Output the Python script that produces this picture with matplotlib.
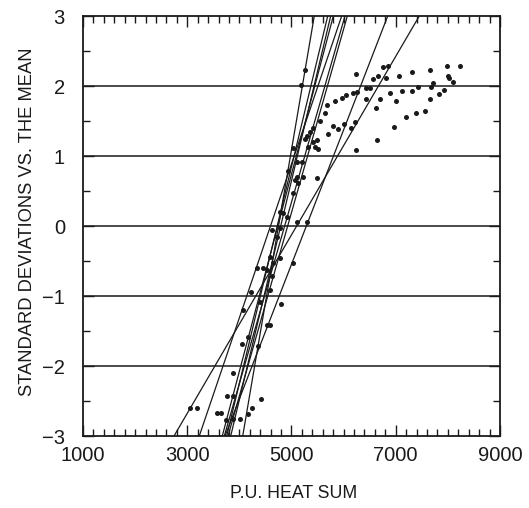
import numpy as np
import matplotlib
matplotlib.use("Agg")
import matplotlib.pyplot as plt
from matplotlib.ticker import MultipleLocator

plt.rcParams['font.family'] = ['Liberation Sans', 'DejaVu Sans']

# fitted lines: heat sum where each line meets -3 and +3 standard deviations
line_x_bottom = [2746, 3724, 3231, 4064, 3757, 3834, 3672, 3711, 3782]
line_x_top = [7452, 6846, 5963, 5437, 5695, 5752, 5802, 6026, 6071]
line_z = [-3, 3]

x_ticks = [1000, 3000, 5000, 7000, 9000]

# observed points (heat sum, standard deviations)
pts_x = [6750, 6857, 6813, 7062, 7318, 7657, 7978, 8233, 8008, 8028, 8093, 7720,
         7676, 7421, 7318, 7126, 6890, 7932, 7836, 7657, 6999, 6698, 7561, 7389,
         7197, 6972,
         5259, 5177, 6232, 6558, 6654, 6429, 6506, 6251, 6186, 6040, 5975, 5835,
         5687, 5643, 5547, 6429, 6621, 6237, 6218, 6142, 6007, 5898, 5802, 5706,
         5418, 5495, 5503, 5292, 5035, 5259, 6633,
         5355, 5451, 5418, 5322, 5195, 5100, 5067, 5483, 4939, 5100, 5228, 5130,
         5035, 4779, 4843, 4908, 5100, 5292, 4779, 4620, 4716, 4588, 4779, 4651,
         5035, 4332, 4459, 4524, 4620, 4588, 4217, 4396, 4799, 4075, 4524, 4588,
         4171, 4045, 4363, 3871, 3768, 3884, 4409, 3053, 3193, 3565, 3648, 4248,
         4171, 3738, 3884, 4012]
pts_y = [2.27, 2.29, 2.12, 2.15, 2.20, 2.23, 2.29, 2.29, 2.15, 2.12, 2.06, 2.04,
         1.99, 1.98, 1.93, 1.93, 1.90, 1.94, 1.89, 1.81, 1.79, 1.82, 1.64, 1.62,
         1.56, 1.41,
         2.23, 2.01, 2.17, 2.10, 2.14, 1.97, 1.97, 1.92, 1.90, 1.87, 1.83, 1.79,
         1.73, 1.62, 1.50, 1.82, 1.68, 1.08, 1.49, 1.40, 1.46, 1.38, 1.43, 1.32,
         1.40, 1.23, 1.10, 1.28, 1.11, 1.25, 1.23,
         1.35, 1.13, 1.20, 1.13, 0.92, 0.92, 0.66, 0.68, 0.79, 0.70, 0.70, 0.61,
         0.47, 0.20, 0.18, 0.13, 0.06, 0.06, -0.03, -0.06, -0.15, -0.44, -0.45, -0.53,
         -0.53, -0.60, -0.60, -0.63, -0.72, -0.91, -0.94, -1.08, -1.12, -1.20, -1.41, -1.41,
         -1.58, -1.68, -1.72, -2.10, -2.43, -2.43, -2.47, -2.60, -2.60, -2.67, -2.67, -2.60,
         -2.68, -2.77, -2.76, -2.76]

ink = '#1a1a1a'

fig = plt.figure(figsize=(5.29, 5.08), dpi=100)
ax = fig.add_axes([83 / 529, 1 - 436 / 508, 417 / 529, 420 / 508])

for z in [-2, -1, 0, 1, 2]:
    ax.axhline(z, color=ink, lw=1.1)

for xb, xt in zip(line_x_bottom, line_x_top):
    ax.plot([xb, xt], line_z, color=ink, lw=0.9)

ax.scatter(pts_x, pts_y, s=13, color=ink, zorder=3, linewidths=0)

ax.set_xlim(1000, 9000)
ax.set_ylim(-3, 3)
ax.set_xticks(x_ticks)
ax.xaxis.set_minor_locator(MultipleLocator(200))
ax.yaxis.set_major_locator(MultipleLocator(1))
ax.yaxis.set_minor_locator(MultipleLocator(0.5))
ax.tick_params(which='both', direction='in', top=True, right=True, color=ink, width=1)
ax.tick_params(which='major', length=8)
ax.tick_params(which='minor', length=5)
ax.tick_params(axis='x', labelsize=14.5, pad=7, labelcolor=ink)
ax.tick_params(axis='y', labelsize=14.5, pad=13, labelcolor=ink)
for sp in ax.spines.values():
    sp.set_linewidth(1.3)
    sp.set_color(ink)

fig.text(294 / 529, 1 - 494 / 508, 'P.U. HEAT SUM', ha='center', va='center',
         fontsize=12.8, color=ink)
fig.text(28 / 529, 1 - 222 / 508, 'STANDARD DEVIATIONS VS. THE MEAN', ha='center',
         va='center', rotation=90, fontsize=13.2, color=ink)

fig.savefig('out.png', dpi=100)
